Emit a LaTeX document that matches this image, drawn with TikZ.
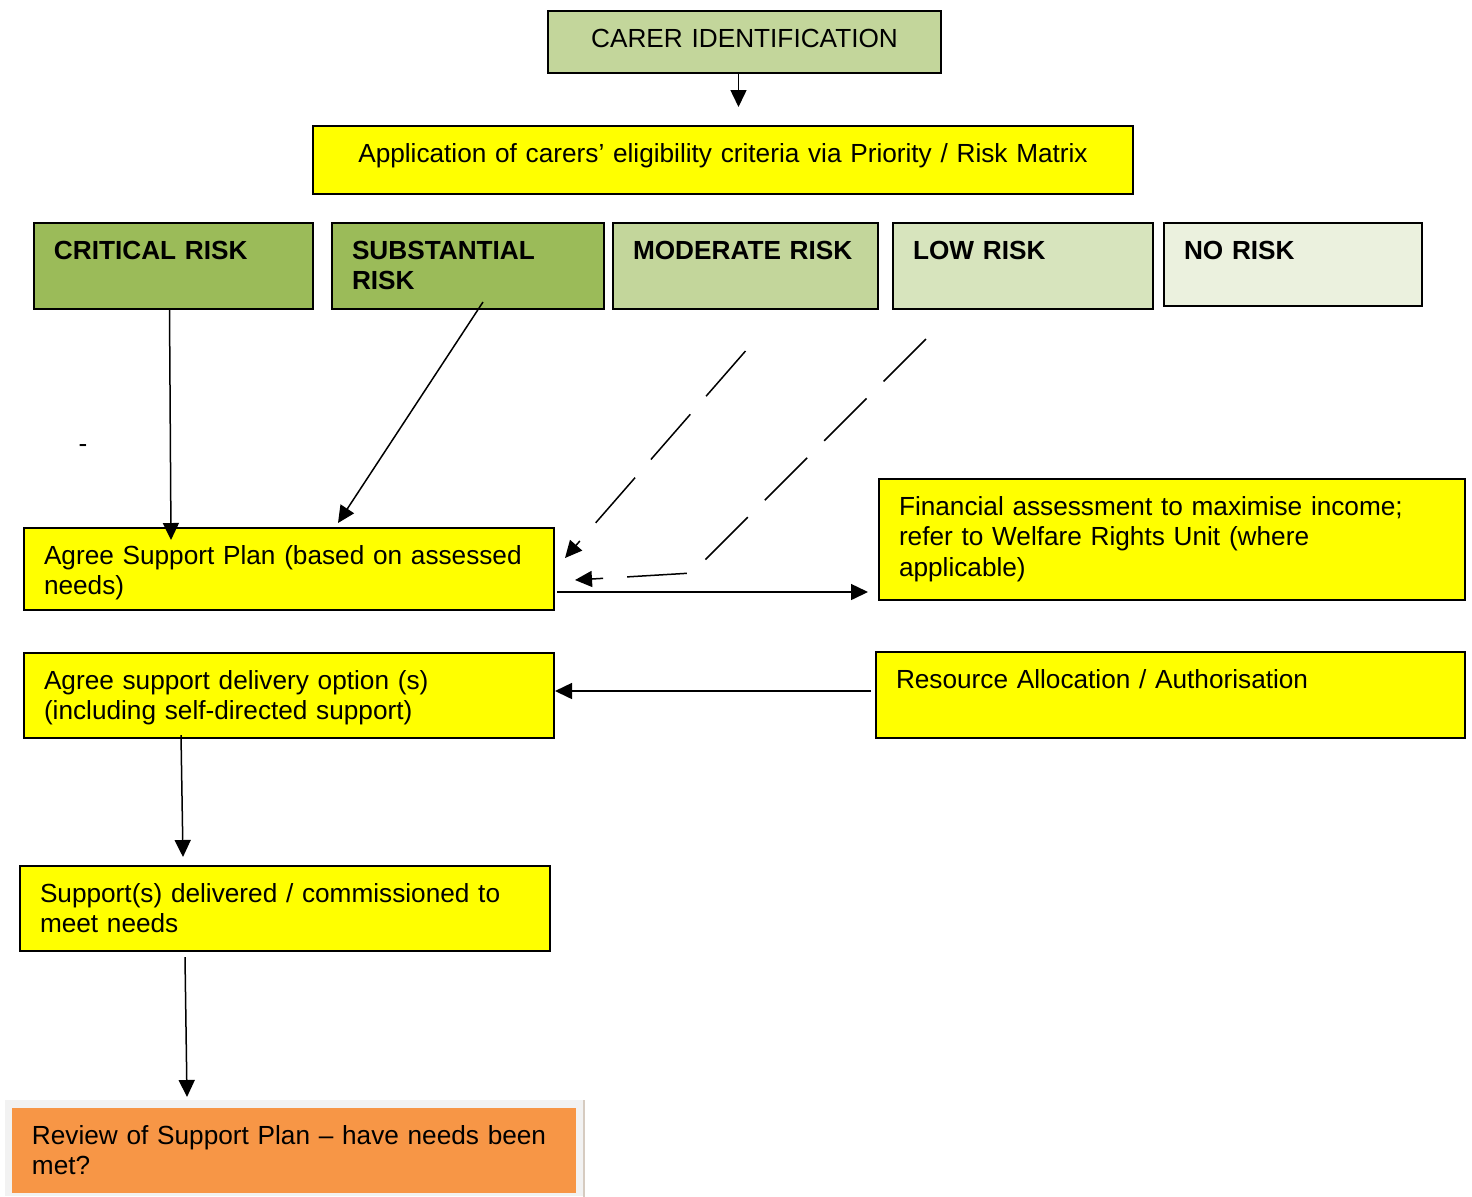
\documentclass[tikz,border=0pt]{standalone}
\usepackage{fontspec}
\setmainfont{Liberation Sans}
\usetikzlibrary{calc,arrows.meta}
\definecolor{greenA}{HTML}{9BBB59}
\definecolor{greenB}{HTML}{C3D69B}
\definecolor{greenC}{HTML}{D7E4BD}
\definecolor{greenD}{HTML}{EBF1DE}
\definecolor{boxyellow}{HTML}{FFFF00}
\definecolor{reviewfill}{HTML}{F79646}
\definecolor{shadowfill}{HTML}{F2F2F2}
\definecolor{shadowedge}{HTML}{D6CBC0}

\begin{document}
\begin{tikzpicture}[x=0.5pt, y=-0.5pt,
        box/.style={draw, line width=1pt, anchor=north west, inner xsep=10pt, inner ysep=0pt,
            align=left, text height=18pt, font=\fontsize{13.1}{15.4}\selectfont},
        riskbox/.style={box, font=\bfseries\fontsize{13.1}{15.4}\selectfont},
        arr/.style={-{Triangle[length=8.5pt,width=8pt]}, line width=0.75pt},
        darr/.style={arr, dash pattern=on 30pt off 12pt}]
    \useasboundingbox (0,0) rectangle (1472,1196);
    \node[box, fill=greenB, align=center, text width=176.5pt, text depth=13pt] (carer) at (547,10) {CARER IDENTIFICATION};
    \node[box, fill=boxyellow, align=center, text width=390pt, text depth=16pt] (matrix) at (312,125) {Application of carers’ eligibility criteria via Priority / Risk Matrix};
    \node[riskbox, fill=greenA, text width=119.5pt, text depth=25pt] (critical) at (33,222) {CRITICAL~RISK};
    \node[riskbox, fill=greenA, text width=116pt, text depth=25pt] (substantial) at (331,222) {SUBSTANTIAL\\RISK};
    \node[riskbox, fill=greenB, text width=112.5pt, text depth=25pt] (moderate) at (612,222) {MODERATE~RISK};
    \node[riskbox, fill=greenC, text width=110pt, text depth=25pt] (low) at (892,222) {LOW~RISK};
    \node[riskbox, fill=greenD, text width=109pt, text depth=23.5pt] (norisk) at (1163,222) {NO~RISK};
    \node[anchor=base, inner sep=0pt, font=\fontsize{13.1}{15.4}\selectfont] (stray) at (83,452) {-};
    \node[box, fill=boxyellow, text width=245pt, text depth=23pt] (plan) at (23,527) {Agree Support Plan (based on assessed\\needs)};
    \node[box, fill=boxyellow, text width=273pt, text depth=42.5pt] (finance) at (878,478) {Financial assessment to maximise income;\\refer to Welfare Rights Unit (where\\applicable)};
    \node[box, fill=boxyellow, text width=245pt, text depth=24.5pt] (delivery) at (23,652) {Agree support delivery option (s)\\(including self-directed support)};
    \node[box, fill=boxyellow, text width=274.5pt, text depth=25pt] (resource) at (875,651) {Resource Allocation / Authorisation};
    \node[box, fill=boxyellow, text width=245pt, text depth=24.5pt] (delivered) at (19,865) {Support(s) delivered / commissioned to\\meet needs};
    \node[fill=shadowfill, anchor=north west, inner sep=0pt, minimum width=289pt, minimum height=48pt] (reviewshadow) at (5,1100) {};
    \draw[shadowedge, line width=1pt] (reviewshadow.north east) -- (reviewshadow.south east);
    \node[box, draw=none, fill=reviewfill, text width=262pt, text depth=24.5pt] (review) at (11,1107) {Review of Support Plan -- have needs been\\met?};
    \coordinate (c1) at ($(carer.south)+(-6,0)$);
    \draw[arr, shorten >=9pt] (c1) -- (c1 |- matrix.north);
    \draw[arr] ($(critical.south)+(-4,-2)$) -- ($(plan.north)+(-118,13)$);
    \draw[arr] ($(substantial.south)+(15,-8)$) -- ($(plan.north)+(49,-4)$);
    \draw[darr] ($(moderate.south)+(0,41)$) -- ($(plan.east)+(10,-11)$);
    \draw[darr] ($(low.south)+(-97,29)$) -- ($(plan.east)+(137,4)$) -- ($(plan.east)+(20,11)$);
    \coordinate (p1) at ($(plan.east)+(2,23)$);
    \draw[arr, shorten >=5pt] (p1) -- (p1 -| finance.west);
    \coordinate (r1) at ($(resource.west)+(-4,-4)$);
    \draw[arr] (r1) -- (r1 -| delivery.east);
    \draw[arr] ($(delivery.south)+(-108,-4)$) -- ($(delivered.north)+(-102,-8)$);
    \draw[arr] ($(delivered.south)+(-100,5)$) -- ($(review.north)+(-107,-10)$);
\end{tikzpicture}
\end{document}
